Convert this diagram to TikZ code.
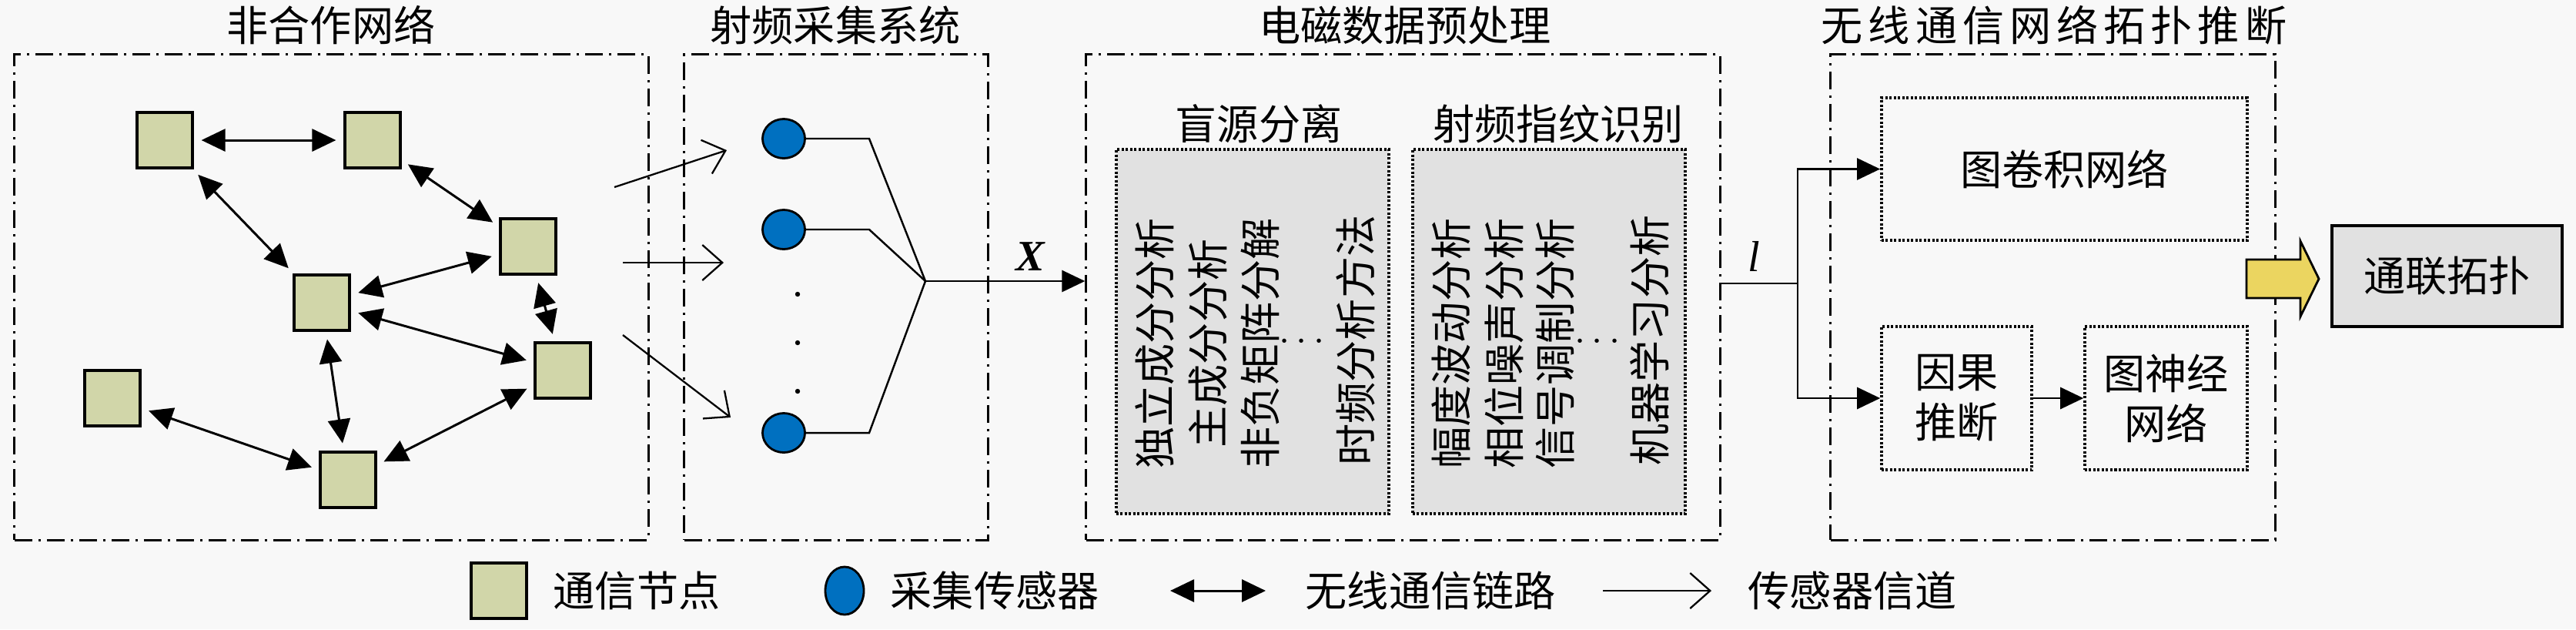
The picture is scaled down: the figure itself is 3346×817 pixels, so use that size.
\documentclass[tikz,border=0pt]{standalone}
\usepackage{fontspec}
\setmainfont{Noto Sans CJK SC}
\newfontfamily\latinserif{Liberation Serif}
\usetikzlibrary{arrows.meta,shapes.geometric}
\definecolor{bgc}{HTML}{F8F8F8}
\definecolor{nodegreen}{HTML}{D1D6A9}
\definecolor{sensorblue}{HTML}{0070C0}
\definecolor{boxgray}{HTML}{E1E1E1}
\definecolor{arrowyellow}{HTML}{EBD560}
\newcommand{\tgap}{\kern0.07cm}
\begin{document}
\begin{tikzpicture}[x=0.01cm,y=-0.01cm,
  txt/.style={font=\fontsize{15.4pt}{18.5pt}\selectfont, inner sep=0pt, align=center},
  comm/.style={draw=black, line width=0.9pt, fill=nodegreen, minimum width=0.72cm, minimum height=0.72cm, inner sep=0pt},
  sensor/.style={ellipse, draw=black, line width=0.8pt, fill=sensorblue, minimum width=0.55cm, minimum height=0.51cm, inner sep=0pt},
  outerbox/.style={draw=black, line width=0.85pt, dash pattern=on 0.23cm off 0.08cm on 0.03cm off 0.08cm, inner sep=0pt},
  innerbox/.style={draw=black, line width=1pt, dash pattern=on 0.03cm off 0.025cm, inner sep=0pt},
  link/.style={line width=0.85pt, {Triangle[length=0.31cm,width=0.29cm]}-{Triangle[length=0.31cm,width=0.29cm]}, shorten <=0.1cm, shorten >=0.1cm},
  chan/.style={line width=0.65pt, -{Straight Barb[length=0.26cm,width=0.46cm]}},
  wire/.style={line width=0.7pt},
  flow/.style={line width=0.8pt, -{Triangle[length=0.3cm,width=0.28cm]}},
]
\fill[bgc] (0,0) rectangle (3346,817);
\useasboundingbox (0,0) rectangle (3346,817);

% titles
\node[txt] (t1) at (430,33) {非合作网络};
\node[txt] (t2) at (1085,33) {射频采集系统};
\node[txt] (t3) at (1825,33) {电磁数据预处理};
\node[txt] (t4) at (2668,33) {无\tgap 线\tgap 通\tgap 信\tgap 网\tgap 络\tgap 拓\tgap 扑\tgap 推\tgap 断};

% outer boxes
\node[outerbox, minimum width=8.23cm, minimum height=6.30cm] (b1) at (430.5,386) {};
\node[outerbox, minimum width=3.94cm, minimum height=6.30cm] (b2) at (1086,386) {};
\node[outerbox, minimum width=8.23cm, minimum height=6.30cm] (b3) at (1822.5,386) {};
\node[outerbox, minimum width=5.77cm, minimum height=6.30cm] (b4) at (2666.5,386) {};

% communication nodes
\node[comm] (n1) at (214,182) {};
\node[comm] (n2) at (484,182) {};
\node[comm] (n3) at (686,320) {};
\node[comm] (n4) at (418,393) {};
\node[comm] (n5) at (731,481) {};
\node[comm] (n6) at (146,517) {};
\node[comm] (n7) at (452,623) {};

\draw[link] (n1) -- (n2);
\draw[link] (n2) -- (n3);
\draw[link] (n1) -- (n4);
\draw[link] (n4) -- (n3);
\draw[link] (n4) -- (n5);
\draw[link] (n3) -- (n5);
\draw[link] (n4) -- (n7);
\draw[link] (n6) -- (n7);
\draw[link] (n5) -- (n7);

% sensor channels
\coordinate (ca1) at (798,243); \coordinate (cb1) at (944,195);
\coordinate (ca2) at (809,341); \coordinate (cb2) at (940,341);
\coordinate (ca3) at (809,435); \coordinate (cb3) at (949,542);
\draw[chan] (ca1) -- (cb1);
\draw[chan] (ca2) -- (cb2);
\draw[chan] (ca3) -- (cb3);

% sensors
\node[sensor] (s1) at (1018,180) {};
\node[sensor] (s2) at (1018,298) {};
\node[sensor] (s3) at (1018,562) {};
\fill (1036,382) circle (3.2);
\fill (1036,445) circle (3.2);
\fill (1036,508) circle (3.2);
\coordinate (junc) at (1202,365);
\draw[wire] (s1.east) -- (1129,180) -- (junc);
\draw[wire] (s2.east) -- (1129,298) -- (junc);
\draw[wire] (s3.east) -- (1129,562) -- (junc);
\draw[flow] (junc) -- (b3.west |- junc);
\node[inner sep=0pt, font=\fontsize{16pt}{16pt}\selectfont] (xl) at (1338,333) {\latinserif\bfseries\itshape X};

% preprocessing
\node[txt] (st1) at (1635,161) {盲源分离};
\node[txt] (st2) at (2024,161) {射频指纹识别};
\node[innerbox, fill=boxgray, minimum width=3.54cm, minimum height=4.73cm] (ga) at (1627,430.5) {};
\node[innerbox, fill=boxgray, minimum width=3.54cm, minimum height=4.73cm] (gb) at (2012,430.5) {};
\node[txt, rotate=90] (a1) at (1500,446) {独立成分分析};
\node[txt, rotate=90] (a2) at (1569,446) {主成分分析};
\node[txt, rotate=90] (a3) at (1637,446) {非负矩阵分解};
\node[txt] (a4) at (1691,444) {$\cdots$};
\node[txt, rotate=90] (a5) at (1761,442) {时频分析方法};
\node[txt, rotate=90] (r1) at (1885,446) {幅度波动分析};
\node[txt, rotate=90] (r2) at (1954,446) {相位噪声分析};
\node[txt, rotate=90] (r3) at (2020,446) {信号调制分析};
\node[txt] (r4) at (2075,444) {$\cdots$};
\node[txt, rotate=90] (r5) at (2143,442) {机器学习分析};

% topology inference
\node[innerbox, minimum width=4.75cm, minimum height=1.85cm, txt] (gcn) at (2681.5,219.5) {图卷积网络};
\node[innerbox, minimum width=1.95cm, minimum height=1.86cm, txt] (causal) at (2541.5,517) {因果\\推断};
\node[innerbox, minimum width=2.11cm, minimum height=1.86cm, txt] (gnn) at (2813.5,517) {图神经\\网络};
\coordinate (lsrc) at (2234,368);
\coordinate (lsplit) at (2335,368);
\draw[wire, line width=0.8pt] (lsrc) -- (lsplit);
\draw[flow] (lsplit) |- (gcn.west);
\draw[flow] (lsplit) |- (causal.west);
\draw[flow] (causal) -- (gnn);
\node[inner sep=0pt, font=\fontsize{16pt}{16pt}\selectfont] (ll) at (2278,333) {\latinserif\itshape l};

% output
\draw[fill=arrowyellow, line width=0.8pt] (2918,337) -- (2988,337) -- (2988,313) -- (3012,362) -- (2988,411) -- (2988,387) -- (2918,387) -- cycle;
\node[draw=black, line width=1.2pt, fill=boxgray, minimum width=2.99cm, minimum height=1.31cm, txt] (out) at (3178.5,358.5) {通联拓扑};

% legend
\node[comm] (lg1) at (648,767) {};
\node[txt, anchor=west] (lt1) at (718,767) {通信节点};
\node[sensor, minimum width=0.50cm, minimum height=0.62cm] (lg2) at (1097,767) {};
\node[txt, anchor=west] (lt2) at (1156,767) {采集传感器};
\coordinate (la1) at (1520,767); \coordinate (la2) at (1644,767);
\draw[link, shorten <=0pt, shorten >=0pt] (la1) -- (la2);
\node[txt, anchor=west] (lt3) at (1695,767) {无线通信链路};
\coordinate (lc1) at (2082,767); \coordinate (lc2) at (2223,767);
\draw[chan] (lc1) -- (lc2);
\node[txt, anchor=west] (lt4) at (2270,767) {传感器信道};
\end{tikzpicture}
\end{document}
